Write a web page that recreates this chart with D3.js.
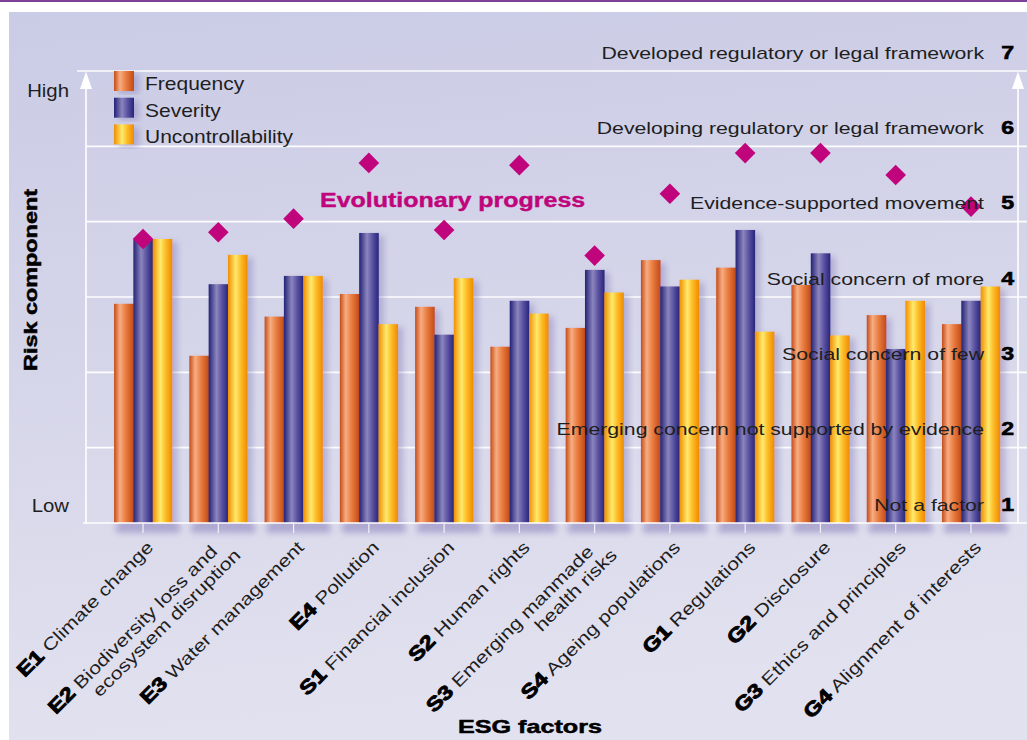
<!DOCTYPE html>
<html><head><meta charset="utf-8">
<script src="https://cdn.jsdelivr.net/npm/d3@7"></script>
<style>
html,body{margin:0;padding:0;background:#fff;}
svg{display:block;font-family:"Liberation Sans",Arial,sans-serif;}
</style></head>
<body>
<svg id="chart" width="1027" height="740"></svg>
<script>
// ---------- DATA ----------
const codes = ["E1","E2","E3","E4","S1","S2","S3","S4","G1","G2","G3","G4"];
const names = [
  ["Climate change"],
  ["Biodiversity loss and","ecosystem disruption"],
  ["Water management"],
  ["Pollution"],
  ["Financial inclusion"],
  ["Human rights"],
  ["Emerging manmade","health risks"],
  ["Ageing populations"],
  ["Regulations"],
  ["Disclosure"],
  ["Ethics and principles"],
  ["Alignment of interests"]
];
const seriesNames = ["Frequency","Severity","Uncontrollability"];
const frequency        = [3.91,3.22,3.74,4.04,3.87,3.34,3.59,4.49,4.39,4.16,3.76,3.64];
const severity         = [4.76,4.17,4.28,4.85,3.50,3.95,4.36,4.14,4.89,4.58,3.31,3.95];
const uncontrollability= [4.77,4.56,4.28,3.64,4.25,3.78,4.06,4.23,3.54,3.49,3.95,4.14];
const progress         = [4.77,4.86,5.04,5.78,4.89,5.75,4.55,5.37,5.91,5.91,5.62,5.20];
const levels = [1,2,3,4,5,6,7];
const levelLabels = ["Not a factor","Emerging concern not supported by evidence","Social concern of few",
  "Social concern of more","Evidence-supported movement","Developing regulatory or legal framework",
  "Developed regulatory or legal framework"];

// ---------- SETUP ----------
const svg = d3.select("#chart");
const defs = svg.append("defs");
const W = 1027, H = 740;

const bg = defs.append("linearGradient").attr("id","bg").attr("x1",0).attr("y1",0).attr("x2",0.15).attr("y2",1);
bg.append("stop").attr("offset",0).attr("stop-color","#cacbe5");
bg.append("stop").attr("offset",1).attr("stop-color","#e2e1ef");

function barGrad(id, stops){
  const g = defs.append("linearGradient").attr("id",id).attr("x1",0).attr("x2",1).attr("y1",0).attr("y2",0);
  stops.forEach(s=>g.append("stop").attr("offset",s[0]).attr("stop-color",s[1]));
}
barGrad("gFreq",[[0,"#c44c17"],[0.3,"#f7ad82"],[0.6,"#e97c40"],[1,"#c24a15"]]);
barGrad("gSev",[[0,"#222276"],[0.4,"#8c85be"],[0.7,"#564e9e"],[1,"#26257c"]]);
barGrad("gUnc",[[0,"#f08e00"],[0.4,"#ffea6c"],[0.65,"#fdbd28"],[1,"#ee8a00"]]);
const fills = ["url(#gFreq)","url(#gSev)","url(#gUnc)"];

const sh = defs.append("filter").attr("id","shadow").attr("x","-30%").attr("y","-10%").attr("width","180%").attr("height","130%");
sh.append("feDropShadow").attr("dx",5).attr("dy",3).attr("stdDeviation",3).attr("flood-color","#6e64a8").attr("flood-opacity",0.35);
const blur = defs.append("filter").attr("id","blur").attr("x","-20%").attr("y","-100%").attr("width","140%").attr("height","300%");
blur.append("feGaussianBlur").attr("stdDeviation",3);

svg.append("rect").attr("width",W).attr("height",H).attr("fill","#fff");
svg.append("rect").attr("x",0).attr("y",0).attr("width",W).attr("height",2).attr("fill","#7e3f98");
svg.append("rect").attr("x",9).attr("y",12).attr("width",W-9).attr("height",H-12).attr("fill","url(#bg)");

// scales
const y = d3.scaleLinear().domain([1,7]).range([523,71]);
const x = d3.scaleBand().domain(codes).range([105.4,1008.6]).paddingInner(0.23).paddingOuter(0.115);
const xs = d3.scaleBand().domain(seriesNames).range([0,x.bandwidth()]);
const axisL = 86, axisR = 1018;

// gridlines
svg.append("g").selectAll("line").data(levels.slice(1)).join("line")
  .attr("x1",d=>d===7?77:axisL).attr("x2",W).attr("y1",d=>y(d)).attr("y2",d=>y(d))
  .attr("stroke","#fff").attr("stroke-width",1.6).attr("opacity",0.95);

// bar shadows at base
const groups = codes.map((c,i)=>({code:c, vals:[frequency[i],severity[i],uncontrollability[i]], p:progress[i], i}));
svg.append("g").selectAll("rect").data(groups).join("rect")
  .attr("x",d=>x(d.code)+2).attr("y",y(1)+1).attr("width",x.bandwidth()+6).attr("height",9)
  .attr("fill","#8d83bd").attr("opacity",0.55).attr("filter","url(#blur)");

// bars
const gBars = svg.append("g").selectAll("g").data(groups).join("g")
  .attr("transform",d=>`translate(${x(d.code)},0)`);
gBars.selectAll("rect").data(d=>d.vals.map((v,j)=>({v,j}))).join("rect")
  .attr("x",d=>xs(seriesNames[d.j])).attr("width",xs.bandwidth()+0.3)
  .attr("y",d=>y(d.v)).attr("height",d=>y(1)-y(d.v))
  .attr("fill",d=>fills[d.j]).attr("filter","url(#shadow)");

// axes lines
svg.append("line").attr("x1",83).attr("x2",W).attr("y1",y(1)).attr("y2",y(1)).attr("stroke","#fff").attr("stroke-width",1.6);
[axisL,axisR].forEach(ax=>{
  svg.append("line").attr("x1",ax).attr("x2",ax).attr("y1",y(1)+1).attr("y2",86).attr("stroke","#fff").attr("stroke-width",1.6);
  svg.append("path").attr("d",`M${ax},${y(7)+0.5} L${ax-6},${y(7)+18} L${ax+6},${y(7)+18} Z`).attr("fill","#fff");
});
svg.append("g").selectAll("line").data(codes).join("line")
  .attr("x1",d=>x(d)+x.bandwidth()/2).attr("x2",d=>x(d)+x.bandwidth()/2)
  .attr("y1",y(1)).attr("y2",y(1)+10).attr("stroke","#f2f2fa").attr("stroke-width",1.2);

// diamonds
svg.append("g").selectAll("path").data(groups).join("path")
  .attr("d",d3.symbol(d3.symbolSquare,213)())
  .attr("transform",d=>`translate(${x(d.code)+x.bandwidth()/2},${y(d.p)}) rotate(45)`)
  .attr("fill","#c0047c");

// right-side level labels (drawn over bars)
const lvl = svg.append("g");
levels.forEach((d,i)=>{
  lvl.append("g").attr("transform",`translate(984,${y(d)-12.5}) scale(1.25,1)`)
    .append("text").attr("text-anchor","end").attr("font-size",17).attr("fill","#1e1e1e").text(levelLabels[i]);
  lvl.append("g").attr("transform",`translate(1014,${y(d)-12.5}) scale(1.25,1)`)
    .append("text").attr("text-anchor","end").attr("font-size",18.5).attr("font-weight","bold")
    .attr("stroke","#000").attr("stroke-width",0.6).attr("fill","#000").text(d);
});

// Evolutionary progress label
svg.append("g").attr("transform","translate(320,207) scale(1.25,1)")
  .append("text").attr("font-size",20).attr("font-weight","bold").attr("fill","#c0047c")
  .attr("stroke","#c0047c").attr("stroke-width",0.4).text("Evolutionary progress");

// legend
seriesNames.forEach((s,j)=>{
  const ly = 71 + j*26.7;
  svg.append("rect").attr("x",114).attr("y",ly).attr("width",20).attr("height",20).attr("fill",fills[j]).attr("filter","url(#shadow)");
  svg.append("g").attr("transform",`translate(145,${ly+19}) scale(1.2,1)`)
    .append("text").attr("font-size",17.5).attr("fill","#1e1e1e").text(s);
});

[["High",97],["Low",512]].forEach(([t,yy])=>{
  svg.append("g").attr("transform",`translate(69,${yy}) scale(1.1,1)`)
    .append("text").attr("text-anchor","end").attr("font-size",18.5).attr("fill","#1e1e1e").text(t);
});

svg.append("g").attr("transform","translate(37,280) rotate(-90) scale(1.3,1)")
  .append("text").attr("text-anchor","middle").attr("font-size",18).attr("font-weight","bold")
  .attr("stroke","#000").attr("stroke-width",0.5).attr("fill","#000").text("Risk component");
svg.append("g").attr("transform","translate(530,733) scale(1.36,1)")
  .append("text").attr("text-anchor","middle").attr("font-size",18.5).attr("font-weight","bold")
  .attr("stroke","#000").attr("stroke-width",0.5).attr("fill","#000").text("ESG factors");

// x labels
groups.forEach((d,i)=>{
  const cx = x(d.code)+x.bandwidth()/2;
  const g = svg.append("g").attr("transform",`translate(${cx},${y(1)}) rotate(-45)`);
  const lines = names[i];
  const pos = lines.length===1 ? [[-10,26]] : [[-21,21],[-7,40]];
  lines.forEach((ln,k)=>{
    const t = g.append("g").attr("transform",`translate(${pos[k][0]},${pos[k][1]}) scale(1.22,1)`)
      .append("text").attr("text-anchor","end").attr("font-size",17.5).attr("fill","#1e1e1e");
    if(k===0){
      t.append("tspan").attr("font-weight","bold").attr("font-size",19.5).attr("fill","#000")
        .attr("stroke","#000").attr("stroke-width",0.9).text(d.code);
      t.append("tspan").text(" "+ln);
    } else t.text(ln);
  });
});
</script>
</body></html>
